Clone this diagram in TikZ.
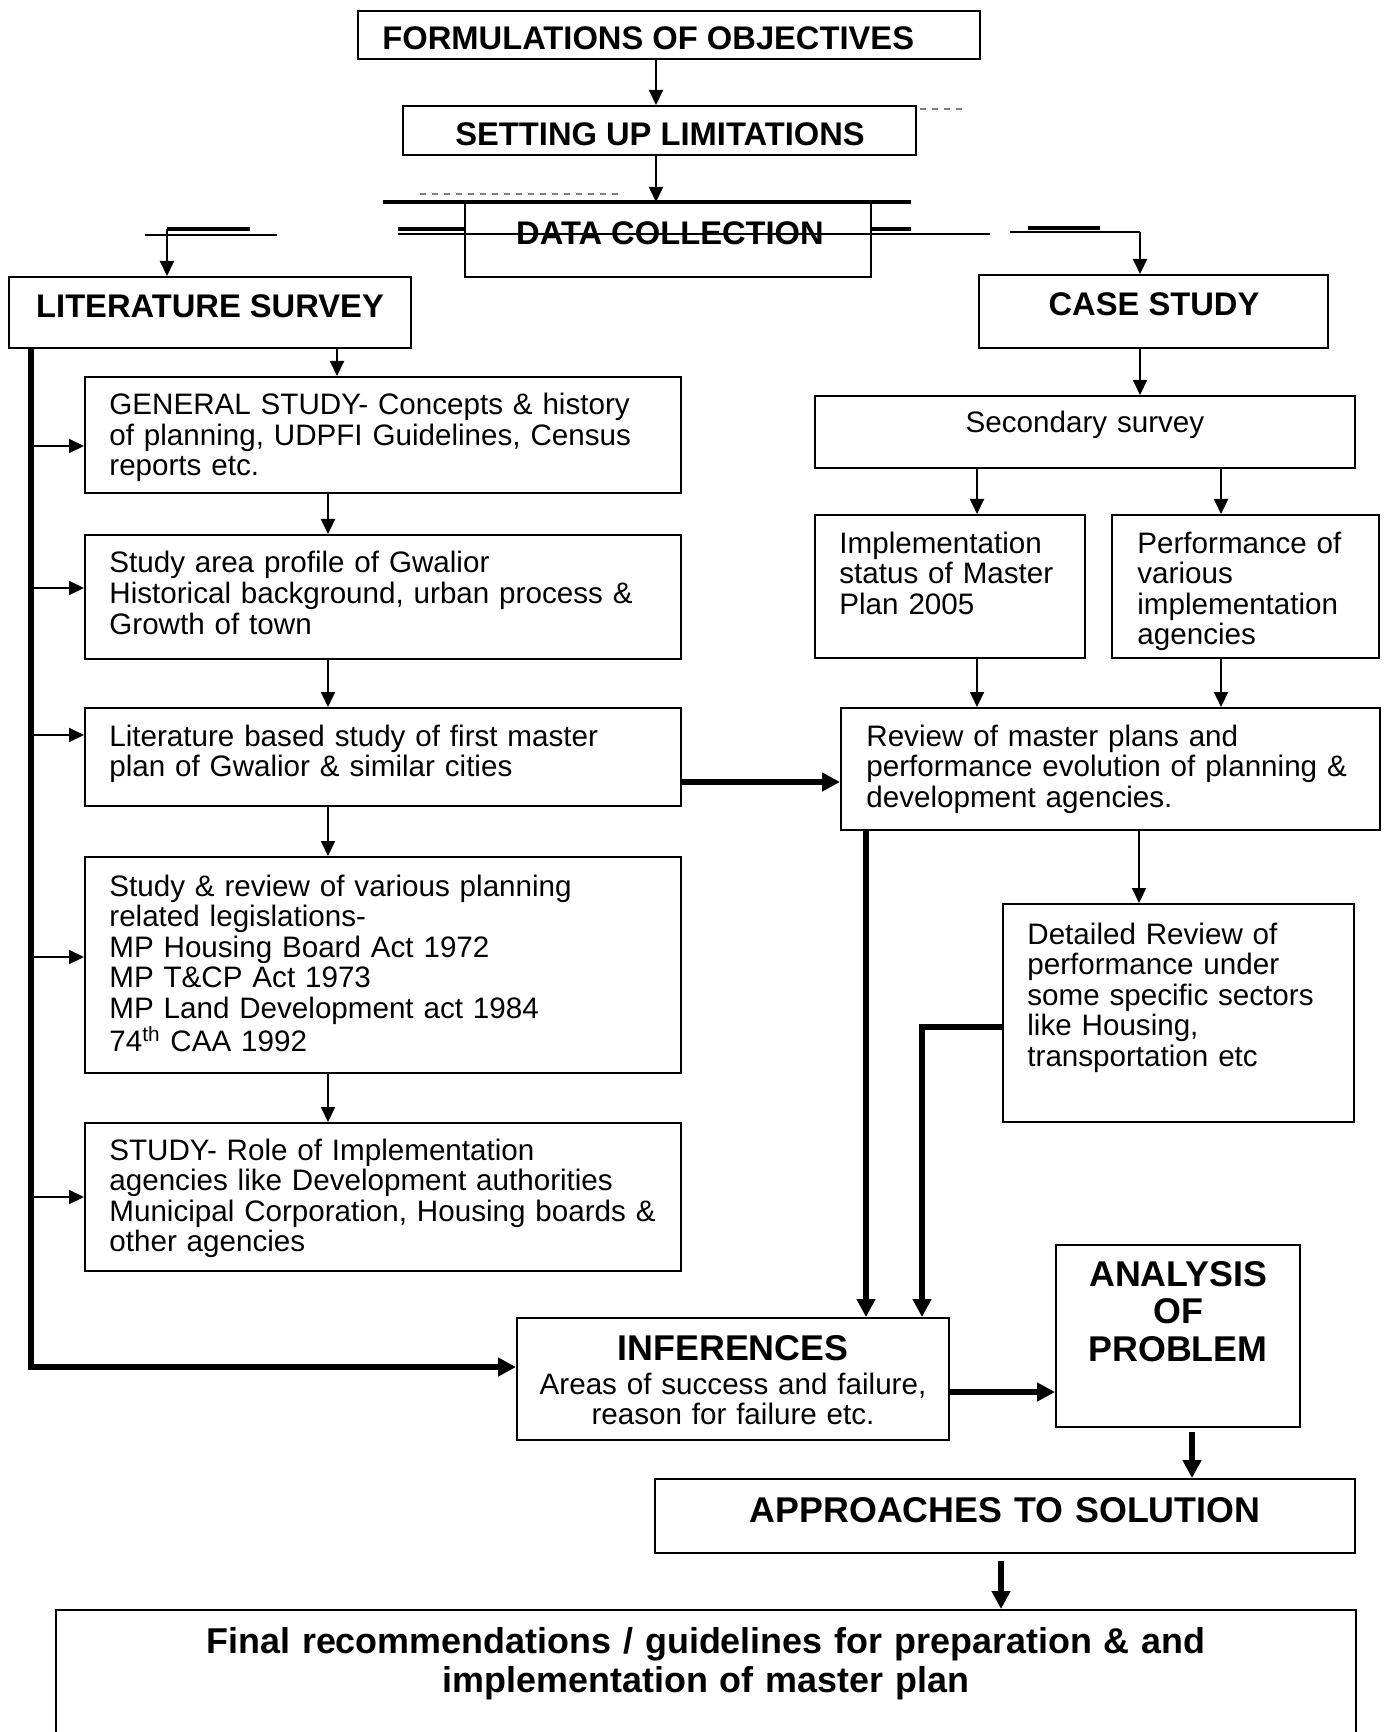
\documentclass[tikz,border=0pt]{standalone}
\usepackage{fontspec}
\setmainfont{Liberation Sans}
\usetikzlibrary{arrows.meta,fit}
\begin{document}
\begin{tikzpicture}[x=0.5pt,y=-0.5pt,
  bx/.style={draw,line width=1pt,inner sep=0pt,fit={#1}},
  body/.style={font=\fontsize{14.8}{15.25}\selectfont,inner sep=0pt,text width=330pt,align=left,anchor=base west},
  bodyc/.style={font=\fontsize{14.8}{15.25}\selectfont,inner sep=0pt,text width=300pt,align=center,anchor=base},
  hdr/.style={font=\bfseries\fontsize{16.35}{18}\selectfont,inner sep=0pt,anchor=base},
  bighdr/.style={font=\bfseries\fontsize{17.9}{18.75}\selectfont,inner sep=0pt,text width=#1,align=center,anchor=base},
  thinarr/.style={line width=1pt,-{Triangle[length=7.5pt,width=7pt]}},
  thickarr/.style={line width=2.6pt,-{Triangle[length=9pt,width=9pt]}},
  thinln/.style={line width=0.8pt},
  thickln/.style={line width=2.2pt}
]
\useasboundingbox (0,0) rectangle (1387,1732);
\clip (0,0) rectangle (1387,1732);

% ---------- top boxes ----------
\node[bx={(358,11) (980,59)}] (fo) {};
\node[hdr,anchor=base west] (fot) at (382,50) {FORMULATIONS OF OBJECTIVES};
\node[bx={(403,106) (916,155)}] (su) {};
\node[hdr] (sut) at (660,146) {SETTING UP LIMITATIONS};
\node[bx={(465,203) (871,277)}] (dc) {};
\node[hdr] (dct) at (670,245) {DATA COLLECTION};
\node[bx={(9,277) (411,348)}] (ls) {};
\node[hdr] (lst) at (210,318) {LITERATURE SURVEY};
\node[bx={(979,275) (1328,348)}] (cs) {};
\node[hdr] (cst) at (1154,316) {CASE STUDY};

% ---------- left column ----------
\node[bx={(85,377) (681,493)}] (gs) {};
\node[body] (gst) at (109,415) {GENERAL STUDY- Concepts \& history\\of planning, UDPFI Guidelines, Census\\reports etc.};
\node[bx={(85,535) (681,659)}] (sa) {};
\node[body] (sat) at (109,573) {Study area profile of Gwalior\\Historical background, urban process \&\\Growth of town};
\node[bx={(85,708) (681,806)}] (lb) {};
\node[body] (lbt) at (109,746) {Literature based study of first master\\plan of Gwalior \& similar cities};
\node[bx={(85,857) (681,1073)}] (sr) {};
\node[body] (srt) at (109,896) {Study \& review of various planning\\related legislations-\\MP Housing Board Act 1972\\MP T\&CP Act 1973\\MP Land Development act 1984\\74\textsuperscript{th} CAA 1992};
\node[bx={(85,1123) (681,1271)}] (ro) {};
\node[body] (rot) at (109,1160) {STUDY- Role of Implementation\\agencies like Development authorities\\Municipal Corporation, Housing boards \&\\other agencies};

% ---------- right column ----------
\node[bx={(815,396) (1355,468)}] (ss) {};
\node[bodyc] (sst) at (1085,433) {Secondary survey};
\node[bx={(815,515) (1085,658)}] (im) {};
\node[body] (imt) at (839,553) {Implementation\\status of Master\\Plan 2005};
\node[bx={(1112,515) (1379,658)}] (pf) {};
\node[body] (pft) at (1137,553) {Performance of\\various\\implementation\\agencies};
\node[bx={(841,708) (1380,830)}] (rv) {};
\node[body] (rvt) at (866,746) {Review of master plans and\\performance evolution of planning \&\\development agencies.};
\node[bx={(1003,904) (1354,1122)}] (dr) {};
\node[body] (drt) at (1027,944) {Detailed Review of\\performance under\\some specific sectors\\like Housing,\\transportation etc};

% ---------- bottom ----------
\node[bx={(517,1318) (949,1440)}] (inf) {};
\node[bighdr=200pt] (inft) at (733,1360) {INFERENCES};
\node[bodyc] (infs) at (733,1394) {Areas of success and failure,\\reason for failure etc.};
\node[bx={(1056,1245) (1300,1427)}] (an) {};
\node[bighdr=115pt,font=\bfseries\fontsize{17.9}{18.9}\selectfont] (ant) at (1178,1286) {ANALYSIS\\OF\\PROBLEM};
\node[bx={(655,1479) (1355,1553)}] (ap) {};
\node[bighdr=340pt] (apt) at (1005,1522) {APPROACHES TO SOLUTION};
\node[bx={(56,1610) (1356,1800)}] (fin) {};
\node[bighdr=640pt,font=\bfseries\fontsize{17.95}{19.5}\selectfont] (fint) at (706,1653) {Final recommendations / guidelines for preparation \& and\\implementation of master plan};

% ---------- scan remnants around DATA COLLECTION ----------
\draw[thickln] (383,202) -- (911,202);
\draw[line width=2pt] (398,229) -- (465,229);
\draw[line width=2pt] (871,229) -- (911,229);
\draw[thinln] (398,234) -- (990,234);
\draw[gray,dashed,line width=0.6pt] (420,194) -- (620,194);
\draw[gray,dashed,line width=0.6pt] (920,109) -- (962,109);
\draw[thickln] (167,229) -- (250,229);
\draw[thinln] (145,235) -- (277,235);
\draw[thickln] (1028,228) -- (1100,228);
\draw[thinln] (1010,232) -- (1140,232);

% ---------- connectors ----------
\coordinate (cA) at (656,0);
\coordinate (lsin) at (167,229);
\coordinate (csin) at (1140,232);
\draw[thinarr] (fo.south -| cA) -- (su.north -| cA);
\draw[thinarr] (su.south -| cA) -- (dc.north -| cA);
\draw[thinarr] (lsin) -- (ls.north -| lsin);
\draw[thinarr] (csin) -- (cs.north -| csin);

\draw[thickarr] (ls.south -| 31,0) -- (31,1367) -- (inf.west |- 0,1367);
\draw[thinarr] (31,446) -- (gs.west |- 0,446);
\draw[thinarr] (31,588) -- (sa.west |- 0,588);
\draw[thinarr] (31,735) -- (lb.west |- 0,735);
\draw[thinarr] (31,957) -- (sr.west |- 0,957);
\draw[thinarr] (31,1197) -- (ro.west |- 0,1197);

\draw[thinarr] (ls.south -| 337,0) -- (gs.north -| 337,0);
\draw[thinarr] (gs.south -| 328,0) -- (sa.north -| 328,0);
\draw[thinarr] (sa.south -| 328,0) -- (lb.north -| 328,0);
\draw[thinarr] (lb.south -| 328,0) -- (sr.north -| 328,0);
\draw[thinarr] (sr.south -| 328,0) -- (ro.north -| 328,0);
\draw[thickarr] (lb.east |- 0,782) -- (rv.west |- 0,782);

\draw[thinarr] (cs.south -| 1140,0) -- (ss.north -| 1140,0);
\draw[thinarr] (ss.south -| 977,0) -- (im.north -| 977,0);
\draw[thinarr] (ss.south -| 1221,0) -- (pf.north -| 1221,0);
\draw[thinarr] (im.south -| 977,0) -- (rv.north -| 977,0);
\draw[thinarr] (pf.south -| 1221,0) -- (rv.north -| 1221,0);
\draw[thinarr] (rv.south -| 1139,0) -- (dr.north -| 1139,0);
\draw[thickarr] (rv.south -| 866,0) -- (inf.north -| 866,0);
\draw[thickarr] (dr.west |- 0,1027) -- (922,1027) -- (inf.north -| 922,0);
\draw[thickarr] (inf.east |- 0,1392) -- (an.west |- 0,1392);
\coordinate (anout) at (1192,1432);
\coordinate (apout) at (1001,1561);
\draw[thickarr] (anout) -- (ap.north -| anout);
\draw[thickarr] (apout) -- (fin.north -| apout);
\end{tikzpicture}
\end{document}
